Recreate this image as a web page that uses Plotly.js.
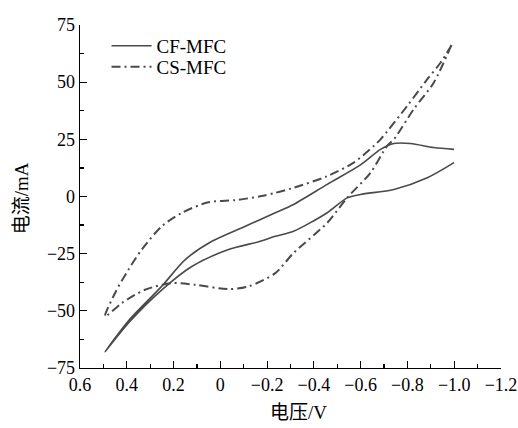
<!DOCTYPE html>
<html>
<head>
<meta charset="utf-8">
<script src="https://cdn.plot.ly/plotly-3.0.1.min.js"></script>
<style>html,body{margin:0;padding:0;background:#fff;}#chart{width:518px;height:428px;}</style>
</head>
<body>
<div id="chart"></div>
<script>
// CF-MFC (solid) loop: one branch from -1.0 V back to 0.49 V, the other out again
const cfVoltage = [-0.999, -0.912, -0.813, -0.742, -0.685, -0.599, -0.457, -0.313, -0.235, -0.107, 0.036, 0.150, 0.250, 0.390, 0.493,
                   0.390, 0.250, 0.122, -0.035, -0.171, -0.235, -0.313, -0.457, -0.542, -0.599, -0.742, -0.885, -0.999];
const cfCurrent = [20.6, 21.4, 23.2, 23.2, 20.6, 13.8, 5.3, -3.5, -7.1, -13.0, -19.6, -27.6, -39.2, -54.0, -67.9,
                   -55.0, -40.8, -30.6, -23.2, -19.6, -17.4, -15.2, -7.1, -0.6, 0.9, 3.1, 8.2, 14.8];

// CS-MFC (dash-dot) loop
const csVoltage = [-0.989, -0.942, -0.885, -0.799, -0.685, -0.656, -0.570, -0.457, -0.313, -0.235, -0.171, -0.064, 0.051, 0.164, 0.250, 0.336, 0.393, 0.450, 0.493,
                   0.421, 0.322, 0.207, 0.108, -0.035, -0.121, -0.235, -0.313, -0.457, -0.542, -0.642, -0.713, -0.742, -0.827, -0.913, -0.993];
const csCurrent = [66.2, 58.6, 51.3, 39.6, 25.0, 22.1, 14.8, 8.9, 3.8, 1.6, 0.1, -1.6, -2.5, -7.1, -13.0, -23.2, -32.0, -42.2, -52.5,
                   -46.6, -40.8, -37.9, -38.6, -40.5, -39.3, -33.5, -24.7, -11.5, -0.6, 10.4, 22.1, 25.0, 38.2, 49.9, 67.5];

const seriesNames = ["CF-MFC", "CS-MFC"];
const xTickVals = [0.6, 0.4, 0.2, 0, -0.2, -0.4, -0.6, -0.8, -1.0, -1.2];
const xTickText = ["0.6", "0.4", "0.2", "0", "\u22120.2", "\u22120.4", "\u22120.6", "\u22120.8", "\u22121.0", "\u22121.2"];
const yTickVals = [-75, -50, -25, 0, 25, 50, 75];
const yTickText = ["\u221275", "\u221250", "\u221225", "0", "25", "50", "75"];
const xTitle = "电压/V";
const yTitle = "电流/mA";

const serif = "Liberation Serif";
const cjk = "Liberation Serif, Noto Sans CJK SC";

const traces = [
  {x: cfVoltage, y: cfCurrent, name: seriesNames[0], mode: "lines", legend: "legend",
   line: {color: "#4a4a4a", width: 1.6, shape: "spline", smoothing: 0.8}},
  {x: csVoltage, y: csCurrent, name: seriesNames[1], mode: "lines", legend: "legend2",
   line: {color: "#4a4a4a", width: 2, dash: "9px,4px,2px,4px", shape: "spline", smoothing: 0.8}}
];

const axisCommon = {
  showline: true, linecolor: "#000", linewidth: 1.3, mirror: false,
  showgrid: false, zeroline: false,
  ticks: "inside", ticklen: 7, tickwidth: 1.2, tickcolor: "#000",
  tickfont: {family: serif, size: 18, color: "#000"}
};

const legendCommon = {xanchor: "left", yanchor: "middle", bgcolor: "rgba(0,0,0,0)", itemwidth: 40,
  font: {family: serif, size: 19, color: "#000"}};

const layout = {
  width: 518, height: 428,
  margin: {l: 80, r: 17, t: 25, b: 60},
  paper_bgcolor: "#fff", plot_bgcolor: "#fff",
  showlegend: true,
  legend: Object.assign({x: 0.063, y: 0.939}, legendCommon),
  legend2: Object.assign({x: 0.063, y: 0.878}, legendCommon),
  xaxis: Object.assign({}, axisCommon, {
    range: [0.6, -1.2], tickmode: "array", tickvals: xTickVals, ticktext: xTickText,
    minor: {ticks: "inside", ticklen: 4, tickwidth: 1.2, tickcolor: "#000", dtick: 0.1, tick0: 0}
  }),
  yaxis: Object.assign({}, axisCommon, {
    range: [-75, 75], tickmode: "array", tickvals: yTickVals, ticktext: yTickText,
    minor: {ticks: "inside", ticklen: 4, tickwidth: 1.2, tickcolor: "#000", dtick: 12.5, tick0: 0}
  }),
  annotations: [
    {text: xTitle, xref: "paper", yref: "paper", x: 0.518, y: -0.131, xanchor: "center", yanchor: "middle",
     showarrow: false, font: {family: cjk, size: 19, color: "#000"}},
    {text: yTitle, xref: "paper", yref: "paper", x: -0.140, y: 0.495, xanchor: "center", yanchor: "middle",
     textangle: -90, showarrow: false, font: {family: cjk, size: 19, color: "#000"}}
  ]
};

Plotly.newPlot("chart", traces, layout, {staticPlot: true, displayModeBar: false});
</script>
</body>
</html>
